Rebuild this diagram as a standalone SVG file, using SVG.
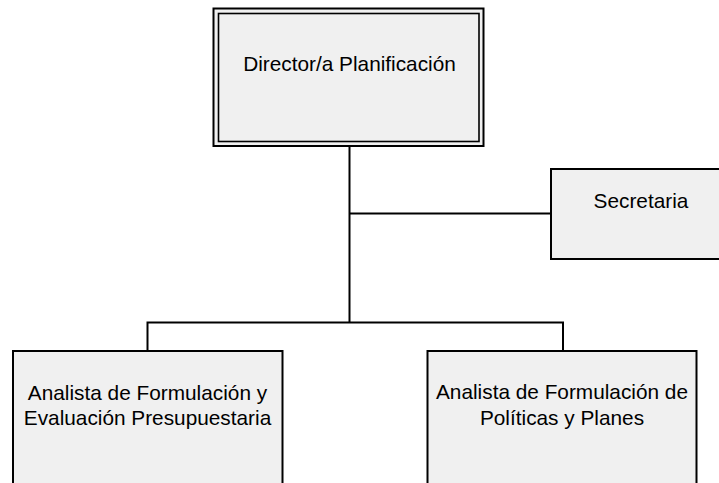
<svg xmlns="http://www.w3.org/2000/svg" width="719" height="483" viewBox="0 0 719 483">
<style>
.box{fill:#f0f0f0;stroke:#000;stroke-width:2}
.inner{fill:none;stroke:#000;stroke-width:1.6}
.lbl{font-family:"Liberation Sans",Arial,sans-serif;font-size:20.8px;fill:#000;text-anchor:middle}
.conn{fill:none;stroke:#000;stroke-width:2}
</style>
<rect width="719" height="483" fill="#fff"/>
<g id="connectors">
<path class="conn" d="M349.5 146 V322.5"/>
<path class="conn" d="M349.5 213.5 H551"/>
<path class="conn" d="M147.5 351 V322.5 H563 V351"/>
</g>
<g id="director">
<rect class="box" x="213.5" y="8.5" width="270" height="137.5"/>
<rect class="inner" x="218.5" y="13.5" width="260.5" height="128"/>
<text class="lbl" x="349.5" y="71">Director/a Planificación</text>
</g>
<g id="secretaria">
<rect class="box" x="551" y="169" width="180" height="90"/>
<text class="lbl" x="641" y="208">Secretaria</text>
</g>
<g id="analista1">
<rect class="box" x="13" y="351" width="269.5" height="150"/>
<text class="lbl" x="147.5" y="400">Analista de Formulación y</text>
<text class="lbl" x="147.5" y="425">Evaluación Presupuestaria</text>
</g>
<g id="analista2">
<rect class="box" x="427.5" y="351" width="269" height="150"/>
<text class="lbl" x="562" y="399">Analista de Formulación de</text>
<text class="lbl" x="562" y="425">Políticas y Planes</text>
</g>
</svg>
